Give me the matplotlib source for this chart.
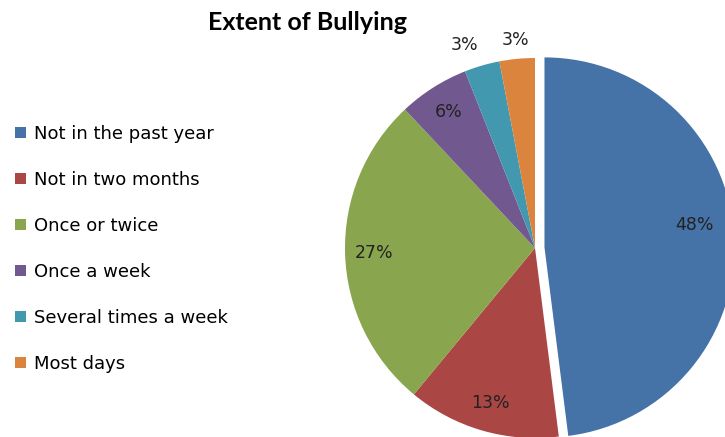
import numpy as np
import matplotlib
matplotlib.use('Agg')
import matplotlib.pyplot as plt
from matplotlib.patches import Patch

plt.rcParams['font.family'] = ['DejaVu Sans']

labels = ['Not in the past year', 'Not in two months', 'Once or twice',
          'Once a week', 'Several times a week', 'Most days']
values = [48, 13, 27, 6, 3, 3]
colors = ['#4572A7', '#AA4643', '#89A54E', '#71588F', '#4198AF', '#DB843D']

W, H = 725, 437
cx, cy, r = 535, 248, 190

fig = plt.figure(figsize=(W / 100, H / 100), dpi=100)
ax = fig.add_axes([0, 0, 1, 1])

explode = [0.05, 0, 0, 0, 0, 0]
wedges, texts, autotexts = ax.pie(values, colors=colors, startangle=90, counterclock=False,
                                  explode=explode, autopct='%d%%',
                                  pctdistance=0.85, radius=1,
                                  wedgeprops=dict(linewidth=0),
                                  textprops=dict(fontsize=12.5, color='#222222'))
ax.set_xlim(-cx / r, (W - cx) / r)
ax.set_ylim(-(H - cy) / r, cy / r)
ax.set_aspect('equal')
ax.axis('off')

# label placement: radial distance and angle nudge per slice
dist = [0.8, 0.85, 0.85, 0.85, 1.13, 1.1]
nudge = [5, 0, 0, 0, 3, 0]
for w, t, ex, d, n in zip(wedges, autotexts, explode, dist, nudge):
    mid = np.deg2rad((w.theta1 + w.theta2) / 2)
    ang = mid + np.deg2rad(n)
    t.set_position((ex * np.cos(mid) + d * np.cos(ang), ex * np.sin(mid) + d * np.sin(ang)))

fig.text(308 / W, 1 - 22 / H, 'Extent of Bullying', ha='center', va='center',
         fontsize=18, fontweight='bold', family='Lato')

handles = [Patch(facecolor=c, edgecolor='none') for c in colors]
fig.legend(handles, labels, loc='upper left', bbox_to_anchor=(15 / W, 1 - 125 / H),
           frameon=False, fontsize=13, labelspacing=1.55, handlelength=0.6,
           handleheight=0.6, handletextpad=0.45, borderaxespad=0, borderpad=0)

fig.savefig('out.png', dpi=100)
